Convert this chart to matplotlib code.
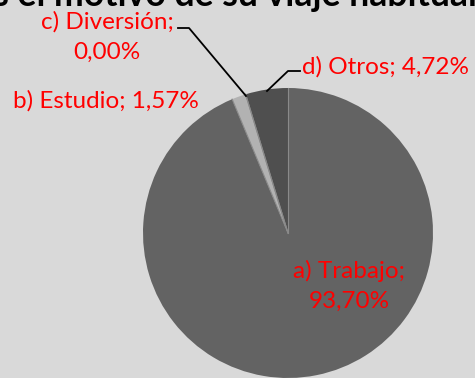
import numpy as np
import matplotlib
matplotlib.use("Agg")
import matplotlib.pyplot as plt

# respuestas: motivo del viaje habitual (%)
categorias = ["a) Trabajo", "b) Estudio", "c) Diversión", "d) Otros"]
porcentajes = [93.70, 1.57, 0.00, 4.72]
colores = ["#636363", "#b2b2b2", "#7f7f7f", "#4f4f4f"]
titulo = "¿Cuál es el motivo de su viaje habitual?"

W, H = 475, 378
plt.rcParams["font.family"] = ["Lato", "DejaVu Sans"]

fig = plt.figure(figsize=(W / 100, H / 100), dpi=100, facecolor="#d9d9d9")
ax = fig.add_axes([0, 0, 1, 1])
ax.set_facecolor("#d9d9d9")


def px(x, y):
    # pixel desde arriba -> coordenada de datos
    return x, H - y


centro = px(288, 233)
radio = 145

ax.pie(porcentajes, colors=colores, startangle=90, counterclock=False,
       center=centro, radius=radio, frame=True,
       wedgeprops=dict(linewidth=0))

# separaciones entre sectores
acum = np.cumsum([0] + porcentajes[:-1]) / sum(porcentajes)
for f in acum:
    ang = np.deg2rad(90 - 360 * f)
    ax.plot([centro[0], centro[0] + radio * np.cos(ang)],
            [centro[1], centro[1] + radio * np.sin(ang)],
            color="#8a8a8a", lw=0.8, zorder=3)

ax.set_xlim(0, W)
ax.set_ylim(0, H)
ax.set_aspect("equal")
ax.axis("off")


def etiqueta(i, sep=" "):
    return f"{categorias[i]};{sep}{porcentajes[i]:.2f}%".replace(".", ",")


rojo = "#ff0000"
fs = 17.5
ax.text(*px(349, 286), etiqueta(0, "\n"), color=rojo, fontsize=fs,
        ha="center", va="center", linespacing=1.55)
ax.text(*px(106, 101), etiqueta(1), color=rojo, fontsize=fs,
        ha="center", va="center")
ax.text(*px(107, 37), etiqueta(2, "\n"), color=rojo, fontsize=fs,
        ha="center", va="center", linespacing=1.55)
ax.text(*px(386, 67), etiqueta(3), color=rojo, fontsize=fs,
        ha="center", va="center")

# lineas guia
for pts in ([(178, 28), (189, 28), (246, 96)],
            [(300, 71), (288, 71), (267, 91)]):
    xs, ys = zip(*[px(x, y) for x, y in pts])
    ax.plot(xs, ys, color="black", lw=1.3, zorder=4)

ax.text(*px(186, 6), titulo, fontsize=25.7, fontweight="bold",
        ha="center", va="baseline", color="black")

fig.savefig("out.png", dpi=100, facecolor=fig.get_facecolor())
